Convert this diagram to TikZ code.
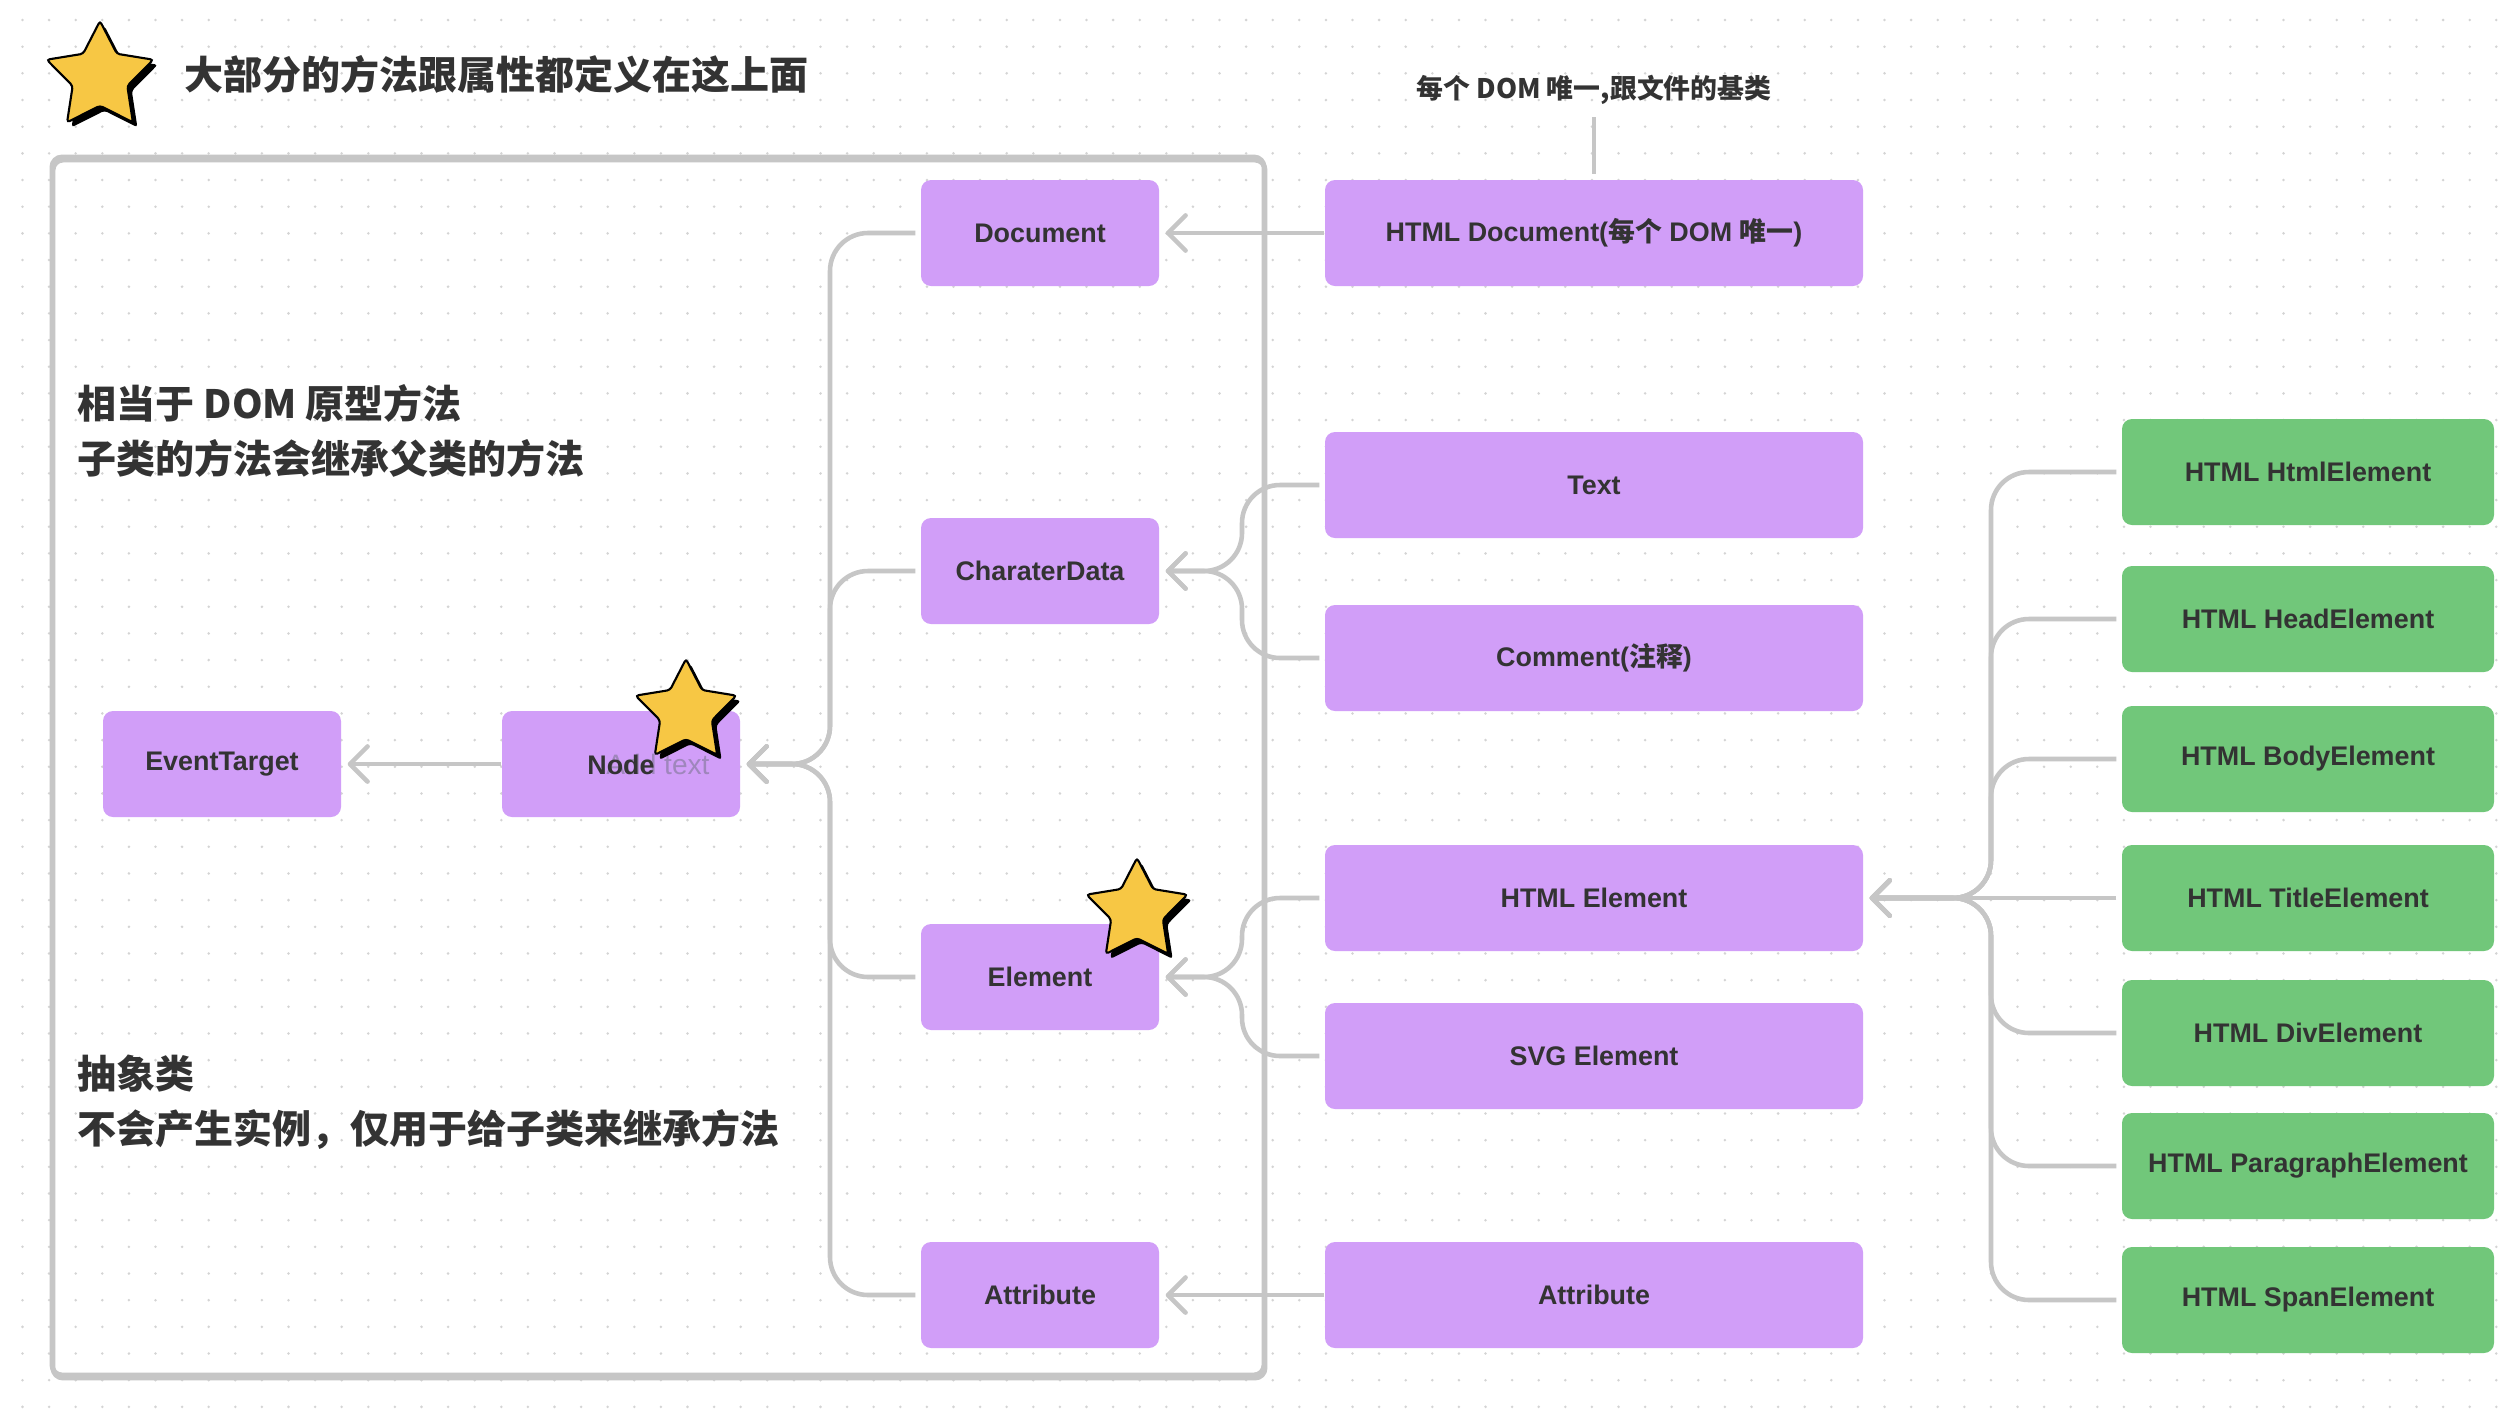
\documentclass[tikz,border=0pt]{standalone}
\usepackage{fontspec}
\setmainfont{Liberation Sans}
\newfontfamily\cjk{Noto Sans CJK SC}
\usepackage{tikz}
\usetikzlibrary{shapes.geometric, arrows.meta, positioning, shadows}
\definecolor{ClassPurple}{HTML}{D19EF8}
\definecolor{TagGreen}{HTML}{71C77A}
\definecolor{LinkGray}{HTML}{C6C6C6}
\definecolor{InkDark}{HTML}{333333}
\definecolor{StarYellow}{HTML}{F7C744}
\definecolor{HintPurple}{HTML}{9F86BC}
\definecolor{GridDot}{HTML}{D4D4D4}
\newcommand{\classfont}{\fontsize{7.65pt}{9pt}\selectfont\bfseries}
\newcommand{\notefont}{\fontsize{11.1pt}{15.6pt}\selectfont\bfseries\cjk}
\tikzset{
  classbox/.style={rectangle, rounded corners=1mm, fill=ClassPurple, minimum width=23.8mm, minimum height=10.6mm, inner sep=0pt, font=\classfont, text=InkDark, align=center},
  widebox/.style={classbox, minimum width=53.8mm},
  tagbox/.style={classbox, fill=TagGreen, minimum width=37.2mm},
  notetext/.style={inner sep=0pt, font=\notefont, text=InkDark, align=left},
  hinttext/.style={inner sep=0pt, font=\classfont\cjk, text=InkDark},
  frame/.style={draw=LinkGray, line width=1.4pt, rounded corners=1mm},
  arrow/.style={-{Straight Barb[length=5pt, width=10pt, round]}, line width=1.3pt, LinkGray, shorten >=0.6mm},
  branch/.style={arrow, rounded corners=3.8mm, shorten <=0.5mm},
  noteline/.style={LinkGray, line width=1.1pt, shorten <=1.2mm, shorten >=0.5mm},
  starmark/.style={star, star points=5, star point ratio=1.95, minimum size=10.6mm, inner sep=0pt, fill=StarYellow, draw=black, line width=0.6pt, rounded corners=0.3mm, drop shadow={shadow xshift=0.45mm, shadow yshift=-0.5mm, fill=black, opacity=1}}
}

\begin{document}
\begin{tikzpicture}[x=0.1mm, y=-0.1mm]
  \useasboundingbox (0,0) rectangle (2520,1424);
  \fill[white] (0,0) rectangle (2520,1424);
  % dotted canvas
  \foreach \i in {0,...,94}{
    \foreach \j in {0,...,53}{
      \fill[GridDot] (22.5+26.6*\i, 20+26.67*\j) circle[radius=0.14mm];
    }
  }

  % header
  \node[starmark, minimum size=11.2mm] (titlestar) at (100,77) {};
  \node[notetext, anchor=west] (title) at (184,74) {大部分的方法跟属性都定义在这上面};

  % abstract classes frame
  \draw[frame] (53,160) rectangle (1265,1378);
  \draw[frame] (52,157) rectangle (1264,1375);
  \node[notetext, anchor=west] (protonote) at (77,431) {相当于 DOM 原型方法\\子类的方法会继承父类的方法};
  \node[notetext, anchor=west] (abstractnote) at (77,1102) {抽象类\\不会产生实例，仅用于给子类来继承方法};

  \node[classbox] (eventtarget) at (222,764) {EventTarget};
  \node[classbox] (domnode) at (621,764) {\rlap{\hspace{1.9mm}\textcolor{HintPurple}{\mdseries\fontsize{8pt}{9pt}\selectfont Add text}}Node};
  \node[classbox] (document) at (1040,233) {Document};
  \node[classbox] (chardata) at (1040,571) {CharaterData};
  \node[classbox] (element) at (1040,977) {Element};
  \node[classbox] (attr) at (1040,1295) {Attribute};

  % concrete classes
  \node[widebox] (htmldoc) at (1594,233) {HTML Document({\cjk 每个} DOM {\cjk 唯一})};
  \node[hinttext] (docnote) at (1594,90) {每个 DOM 唯一,跟文件的基类};
  \node[widebox] (textnode) at (1594,485) {Text};
  \node[widebox] (comment) at (1594,658) {Comment({\cjk 注释})};
  \node[widebox] (htmlel) at (1594,898) {HTML Element};
  \node[widebox] (svgel) at (1594,1056) {SVG Element};
  \node[widebox] (attrnode) at (1594,1295) {Attribute};

  \foreach \tag/\ypos [count=\k] in {Html/472, Head/619, Body/759, Title/898, Div/1033, Paragraph/1166, Span/1300}
    \node[tagbox] (tag\k) at (2308,\ypos) {HTML \tag Element};

  \coordinate (nodetrunk) at (830,764);
  \coordinate (chartrunk) at (1242,571);
  \coordinate (elemtrunk) at (1242,977);
  \coordinate (htmltrunk) at (1991,898);

  % inheritance links
  \draw[arrow] (domnode) -- (eventtarget);
  \foreach \child in {document, chardata, element, attr}
    \draw[branch] (\child.west) -| (nodetrunk) -- (domnode.east);
  \foreach \child in {textnode, comment}
    \draw[branch] (\child.west) -| (chartrunk) -- (chardata.east);
  \foreach \child in {htmlel, svgel}
    \draw[branch] (\child.west) -| (elemtrunk) -- (element.east);
  \draw[arrow] (htmldoc) -- (document);
  \draw[arrow] (attrnode) -- (attr);
  \foreach \k in {1,2,3,5,6,7}
    \draw[branch] (tag\k.west) -| (htmltrunk) -- (htmlel.east);
  \draw[arrow, shorten <=0.5mm] (tag4.west) -- (htmlel.east);
  \draw[noteline] (docnote.south) -- (htmldoc.north);

  % marks
  \node[starmark] (nodestar) at (686,712) {};
  \node[starmark] (elemstar) at (1137,911) {};
\end{tikzpicture}
\end{document}
